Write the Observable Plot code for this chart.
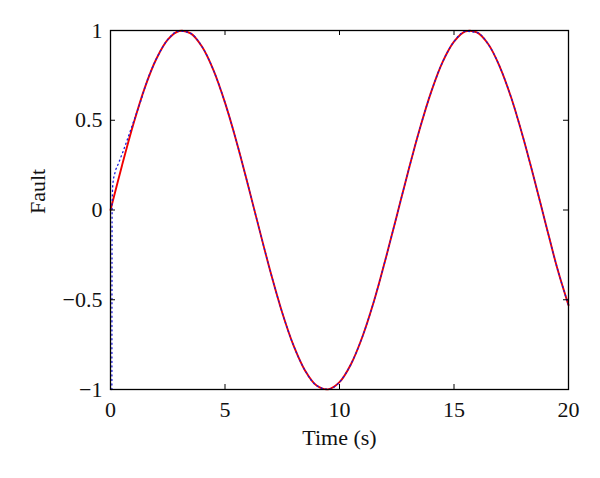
<!DOCTYPE html>
<html><head><meta charset="utf-8">
<script src="https://cdn.jsdelivr.net/npm/d3@7"></script>
<script src="https://cdn.jsdelivr.net/npm/@observablehq/plot@0.6"></script>
<style>body{margin:0;background:#fff}</style>
</head><body><div id="chart"></div>
<script>
const time = [0,0.5,1,1.5,2,2.5,3,3.5,4,4.5,5,5.5,6,6.5,7,7.5,8,8.5,9,9.5,10,10.5,11,11.5,12,12.5,13,13.5,14,14.5,15,15.5,16,16.5,17,17.5,18,18.5,19,19.5,20];
const fault = [0,0.247,0.479,0.682,0.841,0.949,0.997,0.984,0.909,0.778,0.598,0.382,0.141,-0.108,-0.351,-0.572,-0.757,-0.895,-0.978,-0.999,-0.959,-0.859,-0.706,-0.51,-0.279,-0.033,0.215,0.45,0.657,0.824,0.938,0.995,0.989,0.923,0.798,0.625,0.412,0.174,-0.075,-0.32,-0.53];
const estTime = [0.06,0.07,0.1,0.2,0.35,0.5,0.7,1,1.3,1.6,2,2.5,3,3.5,4,4.5,5,5.5,6,6.5,7,7.5,8,8.5,9,9.5,10,10.5,11,11.5,12,12.5,13,13.5,14,14.5,15,15.5,16,16.5,17,17.5,18,18.5,19,19.5,20];
const estimate = [-1,0.0,0.14,0.21,0.26,0.31,0.38,0.49,0.6,0.72,0.841,0.949,0.997,0.984,0.909,0.778,0.598,0.382,0.141,-0.108,-0.351,-0.572,-0.757,-0.895,-0.978,-0.999,-0.959,-0.859,-0.706,-0.51,-0.279,-0.033,0.215,0.45,0.657,0.824,0.938,0.995,0.989,0.923,0.798,0.625,0.412,0.174,-0.075,-0.32,-0.53];
const xTicks = [0,5,10,15,20];
const yTicks = [-1,-0.5,0,0.5,1];
const yTickLabels = ["\u22121","\u22120.5","0","0.5","1"];
const xLabel = "Time (s)";
const yLabel = "Fault";

const W = 600, H = 478, mL = 110, mR = 32, mT = 30, mB = 89;
const innerW = W - mL - mR, innerH = H - mT - mB, tick = 5;
const faultData = time.map((t, i) => ({t, v: fault[i]}));
const estData = estTime.map((t, i) => ({t, v: estimate[i]}));

const chart = Plot.plot({
  width: W, height: H,
  marginLeft: mL, marginRight: mR, marginTop: mT, marginBottom: mB,
  style: {fontFamily: "'Liberation Serif', serif", fontSize: "22px", color: "#111", background: "#fff"},
  x: {domain: [0, 20]},
  y: {domain: [-1, 1]},
  marks: [
    Plot.line(faultData, {x: "t", y: "v", stroke: "#f00000", strokeWidth: 1.9, curve: "catmull-rom"}),
    Plot.line(estData, {x: "t", y: "v", stroke: "#1818e0", strokeWidth: 1.3, strokeDasharray: "1.1,3.4", curve: "monotone-x"}),
    Plot.tickX(xTicks, {x: d => d, insetTop: innerH - tick, stroke: "#000"}),
    Plot.tickX(xTicks, {x: d => d, insetBottom: innerH - tick, stroke: "#000"}),
    Plot.tickY(yTicks, {y: d => d, insetRight: innerW - tick, stroke: "#000"}),
    Plot.tickY(yTicks, {y: d => d, insetLeft: innerW - tick, stroke: "#000"}),
    Plot.frame({stroke: "#000", strokeWidth: 1.3}),
    Plot.axisX({ticks: xTicks, tickSize: 0, tickPadding: 12, label: null, tickFormat: d => String(d)}),
    Plot.axisY({ticks: yTicks, tickSize: 0, tickPadding: 8, label: null, tickFormat: d => yTickLabels[yTicks.indexOf(d)]}),
    Plot.text([xLabel], {frameAnchor: "bottom", dy: 55, text: d => d, fill: "#111"}),
    Plot.text([yLabel], {frameAnchor: "left", dx: -73, dy: 4, rotate: -90, text: d => d, fill: "#111"})
  ]
});
document.getElementById("chart").appendChild(chart);
</script>
</body></html>
